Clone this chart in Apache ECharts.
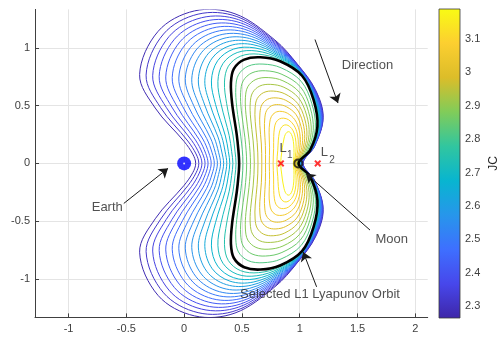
<!DOCTYPE html>
<html>
<head>
<meta charset="utf-8">
<title>L1 Lyapunov orbit family</title>
<script src="https://cdn.jsdelivr.net/npm/echarts@6/dist/echarts.min.js"></script>
<style>
  html, body { margin: 0; padding: 0; background: #ffffff; }
  #chart { width: 501px; height: 348px; }
</style>
</head>
<body>
<div id="chart"></div>
<script>
const FONT = '"Liberation Sans", Arial, Helvetica, sans-serif';

// axis ticks
const xTicks = [-1, -0.5, 0, 0.5, 1, 1.5, 2];
const yTicks = [-1, -0.5, 0, 0.5, 1];
const jcTicks = [2.3, 2.4, 2.5, 2.6, 2.7, 2.8, 2.9, 3.0, 3.1];
const jcRange = [2.264, 3.19];

// parula colour map, low to high
const parula = ['#3e26a8', '#4747eb', '#3e6fff', '#2796eb', '#08b5d0',
                '#31c69f', '#81cc59', '#dcbd29', '#fccf30', '#f9fb14'];

// Jacobi constant of each orbit in the family (outermost first)
const jacobi = [2.280, 2.316, 2.352, 2.388, 2.424, 2.460, 2.496, 2.532, 2.568, 2.604,
                2.640, 2.676, 2.712, 2.748,
                2.819, 2.854, 2.889, 2.924, 2.959, 2.994, 3.029, 3.064, 3.099, 3.134, 3.169];
const selectedJacobi = 2.784;

// upper halves (y >= 0) of the L1 Lyapunov orbits, from the left x-axis crossing
// over the top to the right crossing, in Earth-Moon rotating-frame units
const lyap01 = [[0.100,0],[0.075,0.080],[0.000,0.190],[-0.250,0.480],[-0.385,0.770],[-0.225,1.145],[0.090,1.322],[0.440,1.297],[0.785,1.070],[0.980,0.860],[1.135,0.640],[1.203,0.400],[1.130,0.150],[1.030,0]];
const lyap02 = [[0.127,0],[0.103,0.082],[0.032,0.194],[-0.203,0.483],[-0.329,0.765],[-0.178,1.122],[0.121,1.294],[0.456,1.273],[0.788,1.057],[0.983,0.853],[1.134,0.634],[1.200,0.394],[1.127,0.148],[1.027,0]];
const lyap03 = [[0.154,0],[0.131,0.084],[0.065,0.199],[-0.155,0.486],[-0.272,0.760],[-0.131,1.099],[0.151,1.263],[0.471,1.246],[0.791,1.044],[0.986,0.846],[1.133,0.627],[1.196,0.389],[1.124,0.145],[1.024,0]];
const lyap04 = [[0.181,0],[0.159,0.086],[0.098,0.203],[-0.107,0.489],[-0.216,0.755],[-0.085,1.075],[0.182,1.233],[0.487,1.219],[0.795,1.030],[0.989,0.839],[1.132,0.621],[1.193,0.383],[1.121,0.143],[1.021,0]];
const lyap05 = [[0.207,0],[0.186,0.088],[0.130,0.207],[-0.060,0.491],[-0.159,0.750],[-0.038,1.052],[0.213,1.203],[0.503,1.191],[0.798,1.017],[0.991,0.831],[1.131,0.614],[1.190,0.377],[1.119,0.140],[1.019,0]];
const lyap06 = [[0.234,0],[0.214,0.090],[0.162,0.211],[-0.013,0.494],[-0.103,0.745],[0.009,1.029],[0.244,1.173],[0.519,1.164],[0.801,1.004],[0.994,0.824],[1.130,0.608],[1.186,0.371],[1.116,0.138],[1.016,0]];
const lyap07 = [[0.261,0],[0.242,0.092],[0.195,0.216],[0.035,0.497],[-0.046,0.740],[0.056,1.006],[0.274,1.142],[0.534,1.137],[0.804,0.991],[0.997,0.817],[1.129,0.601],[1.183,0.366],[1.113,0.135],[1.013,0]];
const lyap08 = [[0.288,0],[0.270,0.094],[0.228,0.220],[0.083,0.500],[0.010,0.735],[0.103,0.983],[0.305,1.112],[0.550,1.110],[0.808,0.978],[1.000,0.810],[1.128,0.595],[1.180,0.360],[1.110,0.133],[1.010,0]];
const lyap09 = [[0.315,0],[0.298,0.096],[0.260,0.224],[0.130,0.503],[0.066,0.730],[0.149,0.959],[0.336,1.082],[0.566,1.083],[0.811,0.964],[1.003,0.803],[1.127,0.589],[1.177,0.354],[1.107,0.130],[1.007,0]];
const lyap10 = [[0.342,0],[0.326,0.098],[0.293,0.229],[0.178,0.506],[0.123,0.725],[0.196,0.936],[0.366,1.051],[0.581,1.056],[0.814,0.951],[1.006,0.796],[1.126,0.582],[1.173,0.349],[1.104,0.128],[1.004,0]];
const lyap11 = [[0.369,0],[0.355,0.100],[0.325,0.233],[0.225,0.509],[0.179,0.720],[0.243,0.913],[0.397,1.021],[0.597,1.029],[0.817,0.938],[1.009,0.789],[1.125,0.576],[1.170,0.343],[1.101,0.125],[1.001,0]];
const lyap12 = [[0.395,0],[0.383,0.102],[0.357,0.237],[0.272,0.511],[0.236,0.715],[0.290,0.890],[0.428,0.991],[0.613,1.001],[0.820,0.925],[1.011,0.781],[1.124,0.569],[1.166,0.337],[1.099,0.123],[0.999,0]];
const lyap13 = [[0.422,0],[0.411,0.104],[0.390,0.241],[0.320,0.514],[0.292,0.710],[0.336,0.866],[0.459,0.961],[0.629,0.974],[0.824,0.911],[1.014,0.774],[1.123,0.563],[1.163,0.331],[1.096,0.120],[0.996,0]];
const lyap14 = [[0.449,0],[0.440,0.106],[0.422,0.246],[0.368,0.517],[0.349,0.705],[0.383,0.843],[0.489,0.930],[0.644,0.947],[0.827,0.898],[1.017,0.767],[1.122,0.556],[1.160,0.326],[1.093,0.118],[0.993,0]];
const lyap15 = [[0.509,0],[0.490,0.236],[0.455,0.488],[0.447,0.656],[0.470,0.768],[0.554,0.843],[0.682,0.861],[0.838,0.829],[1.012,0.712],[1.105,0.517],[1.135,0.303],[1.077,0.110],[0.986,0]];
const lyap16 = [[0.541,0],[0.526,0.223],[0.495,0.456],[0.489,0.613],[0.511,0.716],[0.587,0.785],[0.705,0.803],[0.846,0.772],[1.005,0.665],[1.090,0.485],[1.117,0.285],[1.065,0.105],[0.982,0]];
const lyap17 = [[0.574,0],[0.561,0.209],[0.535,0.425],[0.530,0.569],[0.551,0.665],[0.621,0.728],[0.727,0.744],[0.855,0.716],[0.997,0.617],[1.075,0.452],[1.099,0.268],[1.052,0.100],[0.978,0]];
const lyap18 = [[0.607,0],[0.597,0.195],[0.575,0.393],[0.572,0.525],[0.592,0.613],[0.655,0.671],[0.749,0.685],[0.863,0.660],[0.989,0.569],[1.059,0.419],[1.081,0.251],[1.039,0.095],[0.974,0]];
const lyap19 = [[0.639,0],[0.632,0.182],[0.615,0.361],[0.614,0.482],[0.632,0.561],[0.688,0.614],[0.771,0.627],[0.871,0.603],[0.981,0.521],[1.043,0.386],[1.062,0.234],[1.026,0.090],[0.970,0]];
const lyap20 = [[0.672,0],[0.668,0.168],[0.655,0.329],[0.656,0.438],[0.673,0.509],[0.722,0.556],[0.794,0.568],[0.879,0.547],[0.974,0.474],[1.027,0.354],[1.043,0.216],[1.014,0.085],[0.965,0]];
const lyap21 = [[0.704,0],[0.703,0.155],[0.695,0.297],[0.698,0.395],[0.713,0.457],[0.755,0.499],[0.816,0.510],[0.887,0.490],[0.966,0.426],[1.011,0.321],[1.025,0.199],[1.001,0.080],[0.961,0]];
const lyap22 = [[0.737,0],[0.739,0.141],[0.735,0.265],[0.740,0.351],[0.754,0.405],[0.789,0.442],[0.838,0.451],[0.895,0.434],[0.958,0.378],[0.995,0.288],[1.006,0.182],[0.988,0.075],[0.957,0]];
const lyap23 = [[0.770,0],[0.774,0.127],[0.775,0.234],[0.781,0.307],[0.794,0.354],[0.823,0.385],[0.860,0.392],[0.904,0.378],[0.950,0.330],[0.979,0.255],[0.988,0.165],[0.975,0.070],[0.953,0]];
const lyap24 = [[0.802,0],[0.810,0.114],[0.815,0.202],[0.823,0.264],[0.835,0.302],[0.856,0.327],[0.883,0.334],[0.912,0.321],[0.943,0.283],[0.962,0.223],[0.969,0.147],[0.963,0.065],[0.949,0]];
const lyap25 = [[0.835,0],[0.845,0.100],[0.855,0.170],[0.865,0.220],[0.875,0.250],[0.890,0.270],[0.905,0.275],[0.920,0.265],[0.935,0.235],[0.945,0.190],[0.950,0.130],[0.950,0.060],[0.945,0]];

const selectedOrbit = [[0.476,0],[0.470,0.108],[0.455,0.250],[0.415,0.520],[0.405,0.700],[0.430,0.820],[0.520,0.900],[0.660,0.920],[0.830,0.885],[1.020,0.760],[1.120,0.550],[1.153,0.320],[1.090,0.115],[0.990,0]];

const family = [lyap01, lyap02, lyap03, lyap04, lyap05, lyap06, lyap07, lyap08, lyap09,
                lyap10, lyap11, lyap12, lyap13, lyap14, lyap15, lyap16, lyap17, lyap18,
                lyap19, lyap20, lyap21, lyap22, lyap23, lyap24, lyap25];

// primaries and libration points
const earthPos = [0, 0];
const moonPos = [0.9878, 0];
const lagrangePoints = [[0.8369, 0], [1.1557, 0]];

// annotation arrows: tail -> head
const arrowFrom = [[1.132, 1.074], [-0.522, -0.347], [1.608, -0.578], [1.146, -1.070]];
const arrowTo   = [[1.331, 0.523], [-0.139, -0.043], [1.054, -0.087], [1.030, -0.767]];

// annotation texts and where they sit
const noteText = ['Direction', 'Earth', 'Moon', 'Selected L1 Lyapunov Orbit', 'L', '1', 'L', '2'];
const notePos  = [[1.586, 0.851], [-0.665, -0.379], [1.796, -0.659], [1.175, -1.134],
                  [0.857, 0.134], [0.913, 0.072], [1.214, 0.094], [1.280, 0.031]];
const noteSize = [13, 13, 13, 13, 13, 10, 13, 10];

// the orbits are symmetric about the x-axis: close each one with its mirror image
function closeLoop(upper) {
  const lower = upper.slice(1, -1).reverse().map(p => [p[0], -p[1]]);
  return upper.concat(lower);
}
const familyLoops = family.map(closeLoop);
const selectedLoop = closeLoop(selectedOrbit);

function orbitShape(loop, api) {
  return loop.map(p => api.coord(p));
}

const crossPath = 'path://M0,2 L2,0 L5,3 L8,0 L10,2 L7,5 L10,8 L8,10 L5,7 L2,10 L0,8 L3,5 Z';

const chart = echarts.init(document.getElementById('chart'), null, { renderer: 'canvas' });

const axisGray = '#404040';

chart.setOption({
  animation: false,
  backgroundColor: '#ffffff',
  textStyle: { fontFamily: FONT },
  grid: [
    { left: 35, top: 9.4, width: 392.7, height: 308, outerBoundsMode: 'none' },
    { left: 439, top: 9, width: 21, height: 309, outerBoundsMode: 'none' }
  ],
  visualMap: [{
    type: 'continuous',
    show: false,
    seriesIndex: 0,
    dimension: 2,
    min: jcRange[0],
    max: jcRange[1],
    inRange: { color: parula }
  }],
  xAxis: [
    {
      gridIndex: 0, type: 'value', min: -1.29, max: 2.107,
      axisLine: { show: true, onZero: false, lineStyle: { color: axisGray, width: 1 } },
      axisTick: { show: true, inside: true, length: 4, customValues: xTicks, lineStyle: { color: axisGray } },
      axisLabel: { customValues: xTicks, margin: 6, fontSize: 11, color: axisGray, fontFamily: FONT },
      splitLine: { show: true, lineStyle: { color: '#e4e4e4', width: 1 } }
    },
    { gridIndex: 1, type: 'value', min: 0, max: 1, show: false }
  ],
  yAxis: [
    {
      gridIndex: 0, type: 'value', min: -1.335, max: 1.335,
      axisLine: { show: true, onZero: false, lineStyle: { color: axisGray, width: 1 } },
      axisTick: { show: true, inside: true, length: 4, customValues: yTicks, lineStyle: { color: axisGray } },
      axisLabel: { customValues: yTicks, margin: 5, fontSize: 11, color: axisGray, fontFamily: FONT },
      splitLine: { show: true, lineStyle: { color: '#e4e4e4', width: 1 } }
    },
    {
      gridIndex: 1, type: 'value', position: 'right', min: jcRange[0], max: jcRange[1],
      axisLine: { show: false },
      axisTick: { show: true, inside: false, length: 3, customValues: jcTicks, lineStyle: { color: axisGray } },
      axisLabel: { customValues: jcTicks, margin: 5, fontSize: 11, color: axisGray, fontFamily: FONT },
      splitLine: { show: false },
      name: 'JC', nameLocation: 'middle', nameGap: 28, nameRotate: 90,
      nameTextStyle: { fontSize: 12, color: '#262626', fontFamily: FONT }
    }
  ],
  series: [
    {
      // the orbit family, coloured by Jacobi constant
      type: 'custom',
      xAxisIndex: 0, yAxisIndex: 0,
      clip: true, silent: true, z: 2,
      data: family.map((orbit, i) => [orbit[0][0], 0, jacobi[i]]),
      renderItem(params, api) {
        return {
          type: 'polygon',
          shape: { points: orbitShape(familyLoops[params.dataIndex], api), smooth: 0.35 },
          style: { fill: 'none', stroke: api.visual('color'), lineWidth: 1 }
        };
      }
    },
    {
      // the selected orbit
      type: 'custom',
      name: 'Selected L1 Lyapunov Orbit',
      xAxisIndex: 0, yAxisIndex: 0,
      clip: true, silent: true, z: 3,
      data: [[selectedOrbit[0][0], 0, selectedJacobi]],
      renderItem(params, api) {
        return {
          type: 'polygon',
          shape: { points: orbitShape(selectedLoop, api), smooth: 0.35 },
          style: { fill: 'none', stroke: '#000000', lineWidth: 2.6 }
        };
      }
    },
    {
      // Earth
      type: 'scatter', xAxisIndex: 0, yAxisIndex: 0, silent: true, z: 4,
      symbol: 'circle', symbolSize: 14,
      itemStyle: { color: '#0000ff' },
      data: [earthPos]
    },
    {
      type: 'scatter', xAxisIndex: 0, yAxisIndex: 0, silent: true, z: 5,
      symbol: 'circle', symbolSize: 2,
      itemStyle: { color: '#ffffff' },
      data: [earthPos]
    },
    {
      // Moon
      type: 'scatter', xAxisIndex: 0, yAxisIndex: 0, silent: true, z: 4,
      symbol: 'circle', symbolSize: 8,
      itemStyle: { color: 'rgba(255,255,255,0)', borderColor: '#111111', borderWidth: 2 },
      data: [moonPos]
    },
    {
      // L1 and L2
      type: 'scatter', xAxisIndex: 0, yAxisIndex: 0, silent: true, z: 4,
      symbol: crossPath, symbolSize: 7,
      itemStyle: { color: '#ff0000' },
      data: lagrangePoints
    },
    {
      // annotation arrows
      type: 'lines', coordinateSystem: 'cartesian2d', xAxisIndex: 0, yAxisIndex: 0,
      silent: true, z: 6,
      symbol: ['none', 'arrow'], symbolSize: 9,
      lineStyle: { color: '#1a1a1a', width: 1, opacity: 1, curveness: 0 },
      data: arrowFrom.map((p, i) => ({ coords: [p, arrowTo[i]] }))
    },
    {
      // annotation texts
      type: 'scatter', xAxisIndex: 0, yAxisIndex: 0, silent: true, z: 7,
      symbolSize: 0,
      itemStyle: { color: 'transparent' },
      label: { show: true, position: 'inside', color: '#262626', fontFamily: FONT },
      data: noteText.map((t, i) => ({
        value: notePos[i],
        label: { formatter: t, fontSize: noteSize[i] }
      }))
    },
    {
      // colour bar
      type: 'custom',
      xAxisIndex: 1, yAxisIndex: 1, silent: true, z: 2,
      data: [[0, jcRange[0]]],
      renderItem(params, api) {
        const p0 = api.coord([0, jcRange[0]]);
        const p1 = api.coord([1, jcRange[1]]);
        return {
          type: 'rect',
          shape: { x: p0[0], y: p1[1], width: p1[0] - p0[0], height: p0[1] - p1[1] },
          style: {
            fill: new echarts.graphic.LinearGradient(0, 1, 0, 0,
              parula.map((c, i) => ({ offset: i / (parula.length - 1), color: c }))),
            stroke: '#3a3a3a', lineWidth: 0.8
          }
        };
      }
    }
  ]
});
</script>
</body>
</html>
